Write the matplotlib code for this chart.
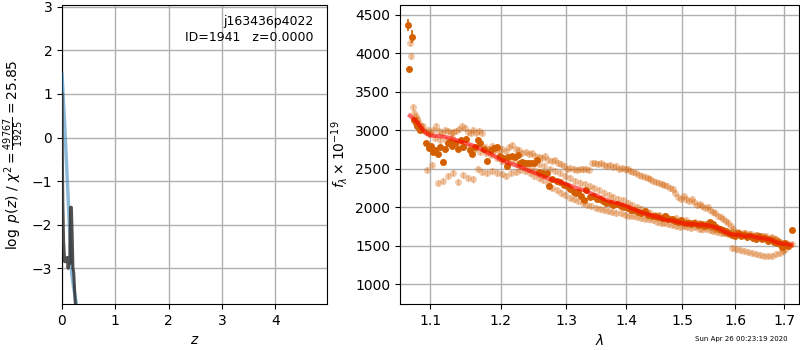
import matplotlib
matplotlib.use("Agg")
import matplotlib.pyplot as plt
from matplotlib.ticker import NullLocator

# ---- left panel: p(z) and chi2 curves ----
z_chi2 = [0.0, 0.05, 0.10, 0.15, 0.18, 0.22, 0.27, 0.30]
v_chi2 = [1.45, 0.30, -1.00, -2.30, -3.10, -3.45, -3.82, -4.10]

z_pz = [0.0, 0.005, 0.015, 0.03, 0.05, 0.07, 0.085, 0.10, 0.115, 0.13, 0.145,
        0.16, 0.175, 0.19, 0.205, 0.22, 0.24, 0.27]
v_pz = [1.0, -0.2, -1.5, -2.4, -2.85, -2.8, -2.85, -2.75, -3.0, -2.8, -2.9,
        -1.6, -1.6, -2.2, -3.0, -3.1, -3.6, -4.2]

pz_xticks = [0, 1, 2, 3, 4]
pz_yticks = [-3, -2, -1, 0, 1, 2, 3]
label_text = "j163436p4022\nID=1941   z=0.0000"
stamp_text = "Sun Apr 26 00:23:19 2020"

# ---- right panel: spectrum ----
# individual beams (light)
lam1 = [1.073, 1.075, 1.077, 1.079, 1.081, 1.083, 1.085, 1.088, 1.091, 1.094, 1.097, 1.100,
        1.104, 1.108, 1.112, 1.116, 1.120, 1.124, 1.128, 1.132, 1.136, 1.140, 1.144, 1.148,
        1.152, 1.156, 1.160, 1.164, 1.168, 1.172,
        1.177, 1.182, 1.187, 1.192, 1.197, 1.202, 1.207, 1.212, 1.217, 1.222, 1.227, 1.232,
        1.237, 1.242, 1.247, 1.252, 1.257, 1.262, 1.267, 1.272, 1.277, 1.282, 1.287, 1.292,
        1.297, 1.302, 1.307, 1.312, 1.317, 1.322, 1.327, 1.332, 1.337]
flux1 = [4140, 3970, 3300, 3230, 3180, 3140, 3100, 3050, 3010, 2980, 3000, 2960,
         3000, 3060, 2990, 2970, 3000, 2990, 2970, 2980, 2990, 3020, 3050, 3030,
         2980, 2970, 3000, 2960, 2990, 2970,
         2780, 2760, 2790, 2750, 2740, 2760, 2730, 2780, 2810, 2760, 2740, 2700,
         2720, 2690, 2700, 2670, 2650, 2640, 2660, 2620, 2600, 2610, 2570, 2560,
         2540, 2500, 2510, 2490, 2480, 2500, 2490, 2500, 2480]

lam2 = [1.342, 1.347, 1.352, 1.357, 1.362, 1.367, 1.372, 1.377, 1.382, 1.387,
        1.392, 1.397, 1.402, 1.407, 1.412, 1.417, 1.422, 1.427, 1.432, 1.437,
        1.442, 1.447, 1.452, 1.457, 1.462, 1.467, 1.472, 1.477, 1.482, 1.487,
        1.492, 1.497, 1.502, 1.507, 1.512, 1.517, 1.522, 1.527, 1.532, 1.537,
        1.542, 1.547, 1.552, 1.557, 1.562, 1.567, 1.572, 1.577, 1.582, 1.587,
        1.592, 1.597, 1.602, 1.607, 1.612, 1.617, 1.622, 1.627, 1.632, 1.637,
        1.642, 1.647, 1.652, 1.657, 1.662, 1.667, 1.672, 1.677, 1.682, 1.687,
        1.692, 1.697, 1.702, 1.707]
flux2 = [2570, 2580, 2560, 2570, 2550, 2540, 2550, 2520, 2530, 2500,
         2510, 2490, 2500, 2470, 2460, 2440, 2420, 2410, 2390, 2380,
         2360, 2340, 2330, 2310, 2300, 2290, 2270, 2250, 2230, 2190,
         2130, 2110, 2140, 2100, 2080, 2110, 2070, 2030, 2040, 2010,
         1990, 2000, 1960, 1940, 1920, 1890, 1870, 1850, 1820, 1790,
         1760, 1720, 1680, 1670, 1650, 1660, 1640, 1650, 1630, 1620,
         1640, 1610, 1630, 1600, 1620, 1590, 1600, 1570, 1590, 1560,
         1540, 1530, 1450, 1520]

lam3 = [1.096, 1.103, 1.110, 1.117, 1.124, 1.131, 1.138, 1.145, 1.152, 1.159,
        1.166, 1.173, 1.180, 1.187, 1.194, 1.201, 1.208, 1.215, 1.222, 1.229,
        1.236, 1.243, 1.250, 1.257, 1.264, 1.271, 1.278, 1.285, 1.292, 1.299,
        1.306, 1.313, 1.320, 1.327, 1.334, 1.341, 1.348, 1.355, 1.362, 1.369,
        1.376, 1.383, 1.390, 1.397, 1.404, 1.411, 1.418, 1.425, 1.432, 1.439,
        1.446, 1.453, 1.460, 1.467, 1.474, 1.481, 1.488, 1.495, 1.502, 1.509,
        1.516, 1.523, 1.530, 1.537, 1.544, 1.551, 1.558, 1.565, 1.572, 1.579,
        1.586]
flux3 = [2480, 2550, 2310, 2340, 2400, 2440, 2330, 2420, 2380, 2360,
         2500, 2460, 2440, 2470, 2450, 2430, 2410, 2440, 2460, 2480,
         2470, 2440, 2400, 2380, 2350, 2320, 2250, 2220, 2190, 2160,
         2120, 2100, 2080, 2060, 2030, 2010, 1990, 1980, 1960, 1950,
         1940, 1930, 1920, 1900, 1890, 1880, 1870, 1860, 1850, 1840,
         1830, 1810, 1800, 1790, 1780, 1770, 1750, 1740, 1760, 1740,
         1730, 1740, 1720, 1710, 1720, 1700, 1690, 1680, 1670, 1660,
         1650]

lam4 = [1.082, 1.090, 1.098, 1.106, 1.114, 1.122, 1.130, 1.138, 1.146, 1.154,
        1.162, 1.170, 1.178, 1.186, 1.194, 1.202, 1.210, 1.218, 1.226, 1.234,
        1.242, 1.250, 1.258, 1.266, 1.274, 1.282, 1.290, 1.298, 1.306, 1.314,
        1.322, 1.330, 1.338, 1.346, 1.354, 1.362, 1.370, 1.378, 1.386, 1.394,
        1.402, 1.410, 1.418, 1.426, 1.434, 1.442, 1.450, 1.458, 1.466, 1.474,
        1.482, 1.490, 1.498, 1.506, 1.514, 1.522, 1.530, 1.538, 1.546, 1.554,
        1.562, 1.570, 1.578, 1.586, 1.594, 1.602, 1.610, 1.618, 1.626, 1.634,
        1.642, 1.650, 1.658, 1.666, 1.674, 1.682, 1.690, 1.698]
flux4 = [3150, 3060, 2950, 2900, 2870, 2880, 2900, 2830, 2800, 2780,
         2760, 2720, 2700, 2680, 2640, 2600, 2580, 2620, 2560, 2530,
         2500, 2480, 2560, 2530, 2500, 2470, 2440, 2400, 2380, 2340,
         2320, 2300, 2270, 2250, 2220, 2190, 2160, 2130, 2110, 2090,
         2060, 2030, 2000, 1980, 1950, 1930, 1900, 1880, 1870, 1860,
         1840, 1820, 1810, 1800, 1800, 1790, 1780, 1780, 1760, 1740,
         1720, 1700, 1680, 1660, 1470, 1450, 1440, 1430, 1420, 1400,
         1390, 1380, 1370, 1360, 1370, 1390, 1400, 1430]

lam5 = [1.452, 1.458, 1.464, 1.470, 1.476, 1.482, 1.488, 1.494, 1.500, 1.506,
        1.512, 1.518, 1.524, 1.530, 1.536, 1.542, 1.548, 1.554, 1.560, 1.566,
        1.572, 1.578, 1.584, 1.590, 1.596, 1.602, 1.608, 1.614, 1.620, 1.626,
        1.632, 1.638, 1.644, 1.650, 1.656, 1.662, 1.668, 1.674, 1.680, 1.686,
        1.692, 1.698, 1.704, 1.710, 1.716]
flux5 = [1890, 1900, 1860, 1880, 1850, 1830, 1860, 1820, 1810, 1830,
         1800, 1790, 1810, 1790, 1770, 1780, 1800, 1760, 1750, 1720,
         1710, 1690, 1670, 1660, 1680, 1650, 1670, 1640, 1660, 1630,
         1650, 1620, 1640, 1610, 1630, 1600, 1590, 1610, 1580, 1560,
         1550, 1520, 1510, 1490, 1520]

beam_lams = [lam1, lam2, lam3, lam4, lam5]
beam_fluxes = [flux1, flux2, flux3, flux4, flux5]
beam_err = 40

# combined spectrum (dark)
hi_lam = [1.070, 1.072, 1.076]
hi_flux = [4370, 3800, 4220]
hi_err = [80, 40, 80]

comb_lam = [1.079, 1.081, 1.083, 1.085, 1.087, 1.095, 1.098, 1.101, 1.104, 1.107,
            1.110, 1.113, 1.117, 1.120, 1.124, 1.127, 1.130, 1.134, 1.138, 1.142,
            1.146, 1.150, 1.155, 1.158, 1.162, 1.166, 1.170, 1.176, 1.180, 1.186,
            1.190, 1.194, 1.198, 1.203, 1.209, 1.211, 1.216, 1.221, 1.225, 1.228,
            1.232, 1.236, 1.240, 1.245, 1.250, 1.255, 1.258, 1.263, 1.267, 1.270,
            1.273, 1.278, 1.285, 1.290, 1.296, 1.302, 1.307, 1.312, 1.316, 1.320,
            1.324, 1.329, 1.333, 1.338, 1.344, 1.350, 1.355, 1.360, 1.366, 1.372,
            1.378, 1.384, 1.390, 1.396, 1.402, 1.408, 1.414, 1.420, 1.426, 1.432,
            1.438, 1.444, 1.450, 1.456, 1.462, 1.468, 1.474, 1.480, 1.486, 1.492,
            1.498, 1.504, 1.510, 1.516, 1.522, 1.528, 1.534, 1.540, 1.546, 1.552,
            1.558, 1.564, 1.570, 1.576, 1.582, 1.588, 1.594, 1.600, 1.606, 1.612,
            1.618, 1.624, 1.630, 1.636, 1.642, 1.648, 1.654, 1.660, 1.666, 1.672,
            1.678, 1.684, 1.690, 1.696, 1.702, 1.708, 1.717]
comb_flux = [3130, 3100, 3050, 3030, 3010, 2830, 2770, 2800, 2720, 2750,
             2690, 2780, 2590, 2760, 2830, 2850, 2800, 2830, 2760, 2880,
             2780, 2890, 2750, 2690, 2780, 2870, 2830, 2760, 2600, 2750,
             2770, 2780, 2670, 2640, 2540, 2650, 2670, 2650, 2680, 2570,
             2590, 2580, 2570, 2580, 2570, 2610, 2460, 2440, 2430, 2450,
             2270, 2370, 2340, 2330, 2290, 2280, 2240, 2200, 2180, 2200,
             2150, 2090, 2220, 2130, 2140, 2110, 2100, 2080, 2060, 2050,
             2030, 2040, 2020, 2000, 1990, 1960, 1960, 1940, 1930, 1950,
             1900, 1890, 1880, 1870, 1860, 1880, 1840, 1850, 1820, 1810,
             1830, 1790, 1790, 1780, 1790, 1770, 1780, 1760, 1770, 1810,
             1780, 1740, 1720, 1700, 1690, 1660, 1640, 1630, 1660, 1620,
             1640, 1610, 1630, 1600, 1590, 1620, 1580, 1600, 1560, 1570,
             1550, 1530, 1520, 1480, 1530, 1500, 1700]
comb_err = 25

# model
model_lam = [1.073, 1.080, 1.085, 1.090, 1.095, 1.100, 1.110, 1.120, 1.130, 1.140,
             1.150, 1.160, 1.170, 1.180, 1.190, 1.200, 1.210, 1.220, 1.230, 1.240,
             1.250, 1.260, 1.270, 1.280, 1.290, 1.300, 1.310, 1.320, 1.330, 1.340,
             1.350, 1.360, 1.370, 1.380, 1.390, 1.400, 1.410, 1.420, 1.430, 1.440,
             1.450, 1.460, 1.470, 1.480, 1.490, 1.500, 1.510, 1.520, 1.530, 1.540,
             1.550, 1.560, 1.570, 1.580, 1.590, 1.600, 1.610, 1.620, 1.630, 1.640,
             1.650, 1.660, 1.670, 1.680, 1.690, 1.700, 1.715]
model_flux = [3190, 3130, 3080, 3010, 2960, 2935, 2925, 2915, 2890, 2860,
              2830, 2800, 2760, 2710, 2670, 2615, 2580, 2550, 2520, 2480,
              2450, 2410, 2380, 2350, 2330, 2300, 2270, 2240, 2220, 2180,
              2150, 2110, 2080, 2060, 2040, 2015, 1980, 1950, 1920, 1900,
              1880, 1860, 1830, 1830, 1810, 1790, 1780, 1780, 1770, 1770,
              1760, 1740, 1720, 1680, 1650, 1640, 1640, 1620, 1630, 1610,
              1600, 1590, 1580, 1550, 1530, 1520, 1510]

spec_xticks = [1.1, 1.2, 1.3, 1.4, 1.5, 1.6, 1.7]
spec_yticks = [1000, 1500, 2000, 2500, 3000, 3500, 4000, 4500]

ORANGE = "#d45f00"


def plot_pz(ax):
    ax.plot(z_chi2, v_chi2, color="#1f77b4", alpha=0.5, lw=2.5, zorder=3)
    ax.plot(z_pz, v_pz, color="0.2", alpha=0.85, lw=2.2, zorder=4)
    ax.set_xlim(0, 4.97)
    ax.set_ylim(-3.82, 3.04)
    ax.set_xticks(pz_xticks)
    ax.set_yticks(pz_yticks)
    ax.grid(True, color="#b0b0b0", lw=1)
    ax.set_xlabel("$z$")
    ax.set_ylabel(r"$\log\ p(z)$ / $\chi^2=\frac{49767}{1925}=25.85$")
    ax.text(0.95, 0.965, label_text, transform=ax.transAxes, ha="right", va="top",
            fontsize=9, linespacing=1.25)


def plot_spectrum(ax):
    for lam, flux in zip(beam_lams, beam_fluxes):
        ax.errorbar(lam, flux, yerr=beam_err, marker="o", ms=5, linestyle="none",
                    color=ORANGE, alpha=0.33, mec="none", elinewidth=1, zorder=2)
    ax.errorbar(hi_lam, hi_flux, yerr=hi_err, marker="o", ms=5, linestyle="none",
                color=ORANGE, mec="none", elinewidth=1.2, zorder=3)
    ax.errorbar(comb_lam, comb_flux, yerr=comb_err, marker="o", ms=5, linestyle="none",
                color=ORANGE, mec="none", elinewidth=1, zorder=3)
    ax.plot(model_lam, model_flux, color="red", alpha=0.6, lw=3, zorder=5)
    ax.set_xscale("log")
    ax.set_xlim(1.06, 1.731)
    ax.set_ylim(740, 4630)
    ax.set_xticks(spec_xticks)
    ax.set_xticklabels([f"{v:.1f}" for v in spec_xticks])
    ax.xaxis.set_minor_locator(NullLocator())
    ax.set_yticks(spec_yticks)
    ax.grid(True, color="#b0b0b0", lw=1)
    ax.set_axisbelow(True)
    ax.set_xlabel(r"$\lambda$")
    ax.set_ylabel(r"$f_\lambda\times10^{-19}$")


def main():
    fig = plt.figure(figsize=(8, 3.5), dpi=100)
    ax1 = fig.add_axes([0.0775, 0.1314, 0.3313, 0.8543])
    ax2 = fig.add_axes([0.5, 0.1314, 0.4988, 0.8543])
    plot_pz(ax1)
    plot_spectrum(ax2)
    fig.text(0.984, 0.022, stamp_text, ha="right", va="bottom", fontsize=5)
    fig.savefig("out.png", dpi=100)
    plt.close(fig)


if __name__ == "__main__":
    main()
